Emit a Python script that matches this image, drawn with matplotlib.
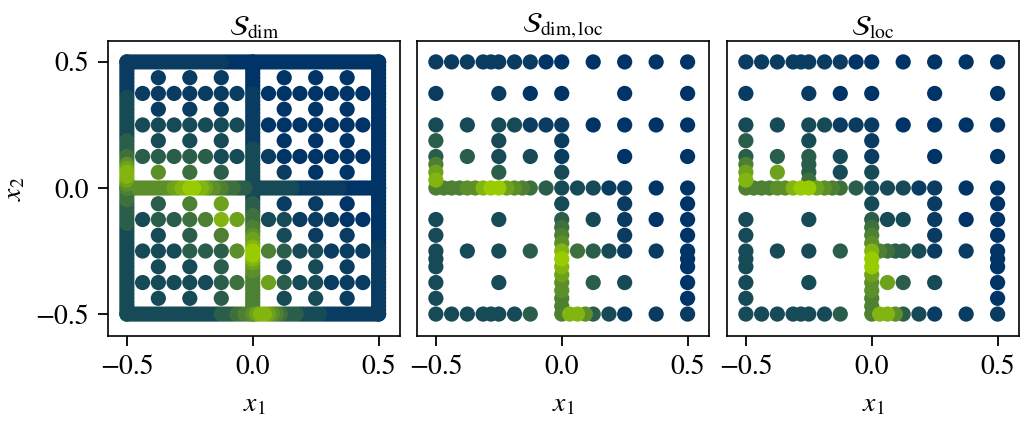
import numpy as np
import matplotlib
matplotlib.use("Agg")
import matplotlib.pyplot as plt
from matplotlib.colors import LinearSegmentedColormap

plt.rcParams['font.family'] = ['STIXGeneral', 'DejaVu Serif']
plt.rcParams['mathtext.fontset'] = 'stix'

# ---------------- data ----------------
titles = [r"$\mathcal{S}_{\mathrm{dim}}$", r"$\mathcal{S}_{\mathrm{dim,loc}}$", r"$\mathcal{S}_{\mathrm{loc}}$"]
xticks = [-0.5, 0.0, 0.5]
xticklabels = ["\u22120.5", "0.0", "0.5"]
yticks = [-0.5, 0.0, 0.5]
yticklabels = ["\u22120.5", "0.0", "0.5"]

# colour level (0 = dark navy ... 9 = lime) of every point

# Panel 1: dense 1-D lines (65 points, step 1/64, from -0.5 to 0.5)
line_top    = "11111111 11111111 11111111 10000000 00000000 00000000 00000000 00000000 0"   # y = 0.5
line_bottom = "22222222 22222222 22222222 33334455 67887654 33332222 22111111 11111111 1"   # y = -0.5
line_hmid   = "55566666 66667788 99887665 54443332 22222222 22211111 11111110 00000000 0"   # y = 0
line_left   = "22222222 22222222 22222223 33333444 56788764 43333222 22222222 11111111 1"   # x = -0.5 (bottom->top)
line_right  = "11111111 11111111 11000000 00000000 00000000 00000000 00000000 00000000 0"   # x = 0.5
line_vmid   = "55555555 55566789 98776554 44333222 22222222 22211111 11111111 10000000 0"   # x = 0

# Panel 1 interior: 15x15 lattice, step 1/16, rows y = 0.4375 (top) ... -0.4375
dim_interior = [
    ".1.1.1. . .0.0.0.",
    "1111111 . 0000000",
    ".1.1.1. . .0.0.0.",
    "2222222 . 0000000",
    ".2.2.2. . .0.0.0.",
    "3333322 . 1000000",
    ".6.4.3. . .1.0.0.",
    "....... . .......",
    ".3.5.7. . .1.1.0.",
    "2334587 . 2211100",
    ".2.3.5. . .2.1.1.",
    "2223336 . 5322111",
    ".2.2.3. . .2.2.1.",
    "2222234 . 7322111",
    ".2.2.3. . .2.2.1.",
]

# Panels 2 and 3: 33x33 lattice, step 1/32, rows y = 0.5 (top) ... -0.5
dimloc_grid = [
    "1.1. 1.11 1.1. 1.0. 0... 0... 0... 0... 0",
    ".... .... .... .... .... .... .... .... .",
    ".... .... .... .... .... .... .... .... .",
    ".... .... .... .... .... .... .... .... .",
    "1... .... 1... 0... 0... .... 0... .... 0",
    ".... .... .... .... .... .... .... .... .",
    ".... .... .... .... .... .... .... .... .",
    ".... .... .... .... .... .... .... .... .",
    "2... 2... 2.2. 1.1. 1... 0... 0... 0... 0",
    ".... .... .... .... .... .... .... .... .",
    "3... .... 2... .... 1... .... .... .... .",
    ".... .... .... .... .... .... .... .... .",
    "3... 3... 2... 2... 1... .... 0... .... 0",
    "5... .... .... .... .... .... .... .... .",
    "7... .... 3... .... 2... .... .... .... .",
    "8... .... .... .... .... .... .... .... .",
    "5555 6689 9765 4.3. 2.2. 2.1. 1... 0... 0",
    ".... .... .... .... .... .... .... .... .",
    ".... .... .... .... 2... .... 1... .... 0",
    ".... .... .... .... .... .... .... .... .",
    "2... .... 2... .... 3... 2... 1... 0... 0",
    ".... .... .... .... 4... .... .... .... .",
    "2... .... .... .... 5... .... 1... .... 0",
    ".... .... .... .... 6... .... .... .... .",
    "2... 2... 2... 3... 8.4. 3.2. 1... 1... 0",
    "2... .... .... .... 9... .... .... .... 0",
    "2... .... .... .... 8... .... .... .... 0",
    ".... .... .... .... 7... .... .... .... .",
    "2... .... 2... .... 6... 3... 2... .... 0",
    ".... .... .... .... 6... .... .... .... .",
    "2... .... .... .... 5... .... .... .... 0",
    ".... .... .... .... 5... .... .... .... .",
    "2.2. 2.22 2.2. 3... 5886 3.2. 1... 1... 1",
]

loc_grid = [
    "1.1. 1.11 1.1. 1.0. 0... 0... 0... 0... 0",
    ".... .... .... .... .... .... .... .... .",
    ".... .... .... .... .... .... .... .... .",
    ".... .... .... .... .... .... .... .... .",
    "1... .... 1... 0... 0... .... 0... .... 0",
    ".... .... .... .... .... .... .... .... .",
    ".... .... .... .... .... .... .... .... .",
    ".... .... .... .... .... .... .... .... .",
    "2... 2... 2.2. 1.1. 1... 0... 0... 0... 0",
    ".... .... .... .... .... .... .... .... .",
    "3... .... 2... .... 1... .... .... .... .",
    ".... .... .... .... .... .... .... .... .",
    "3... 3... 3... 2... 1... .... 0... .... 0",
    "5... .... 3... .... .... .... .... .... .",
    "7... 7... 3... 2... 2... .... .... .... .",
    "8... .... 4... .... .... .... .... .... .",
    "5555 6689 9765 4.3. 2.2. 2.1. 1... 0... 0",
    ".... .... .... .... .... .... .... .... .",
    ".... .... .... .... 2... .... 1... .... 0",
    ".... .... .... .... .... .... .... .... .",
    "2... .... 2... .... 3.2. 2... 1... 0... 0",
    ".... .... .... .... 4... .... .... .... .",
    "2... .... .... .... 5... .... 1... .... 0",
    ".... .... .... .... 6... .... .... .... .",
    "2... 2... 2... 3... 8543 3.2. 1... 1... 0",
    "2... .... .... .... 9... .... .... .... 0",
    "2... .... .... .... 9... .... .... .... 0",
    ".... .... .... .... 7... .... .... .... .",
    "2... .... 2... .... 6.7. 3... 2... .... 0",
    ".... .... .... .... 6... .... .... .... .",
    "2... .... .... .... 5... .... .... .... 0",
    ".... .... .... .... 5... .... .... .... .",
    "2.2. 2.22 2.2. 3... 5886 3.2. 1... 1... 1",
]

# position of each colour level along the navy -> lime colour scale
level_scale = [0.0, 0.06, 0.15, 0.28, 0.40, 0.50, 0.60, 0.72, 0.85, 1.0]

# ---------------- helpers ----------------
def clean(s):
    return s.replace(" ", "")

def grid_points(rows, coords):
    xs, ys, cs = [], [], []
    n = len(coords)
    for r, row in enumerate(rows):
        s = clean(row)
        for c, ch in enumerate(s[:n]):
            if ch != ".":
                xs.append(coords[c]); ys.append(coords[n - 1 - r]); cs.append(int(ch))
    return xs, ys, cs

def line_points(levels, fixed, horizontal, coords):
    s = clean(levels)
    xs, ys, cs = [], [], []
    for i, ch in enumerate(s[:len(coords)]):
        if horizontal:
            xs.append(coords[i]); ys.append(fixed)
        else:
            xs.append(fixed); ys.append(coords[i])
        cs.append(int(ch))
    return xs, ys, cs

lat64 = np.linspace(-0.5, 0.5, 65)
lat32 = np.linspace(-0.5, 0.5, 33)
lat16 = np.linspace(-0.4375, 0.4375, 15)

p1 = [[], [], []]
for lev, fixed, hor in [(line_top, 0.5, True), (line_bottom, -0.5, True), (line_hmid, 0.0, True),
                        (line_left, -0.5, False), (line_right, 0.5, False), (line_vmid, 0.0, False)]:
    a = line_points(lev, fixed, hor, lat64)
    for k in range(3):
        p1[k] += a[k]
a = grid_points(dim_interior, lat16)
for k in range(3):
    p1[k] += a[k]

p2 = list(grid_points(dimloc_grid, lat32))
p3 = list(grid_points(loc_grid, lat32))

cmap = LinearSegmentedColormap.from_list("ng", ["#003366", "#99cc00"])

W, H = 1023, 428
fig = plt.figure(figsize=(W / 100, H / 100), dpi=100)
lefts = [108, 417, 727]
axw = 292
for i, (pts, title) in enumerate(zip([p1, p2, p3], titles)):
    ax = fig.add_axes([lefts[i] / W, (H - 336) / H, axw / W, 295 / H])
    x = np.array(pts[0]); y = np.array(pts[1])
    c = np.array([level_scale[v] for v in pts[2]])
    order = np.argsort(c, kind="stable")
    ax.scatter(x[order], y[order], c=c[order], cmap=cmap, vmin=0, vmax=1, s=120,
               edgecolors="none", linewidths=0, zorder=2)
    ax.set_xlim(-0.575, 0.585)
    ax.set_ylim(-0.587, 0.583)
    ax.set_xticks(xticks)
    ax.set_xticklabels(xticklabels)
    ax.set_title(title, fontsize=20, pad=4)
    ax.set_xlabel(r"$x_1$", fontsize=20, labelpad=9)
    ax.tick_params(axis="both", labelsize=20, length=7.5, width=1.3, direction="out", pad=6)
    for sp in ax.spines.values():
        sp.set_linewidth(1.2)
    if i == 0:
        ax.set_yticks(yticks)
        ax.set_yticklabels(yticklabels)
        ax.set_ylabel(r"$x_2$", fontsize=20, labelpad=6)
    else:
        ax.set_yticks([])

fig.savefig("out.png", dpi=100)
